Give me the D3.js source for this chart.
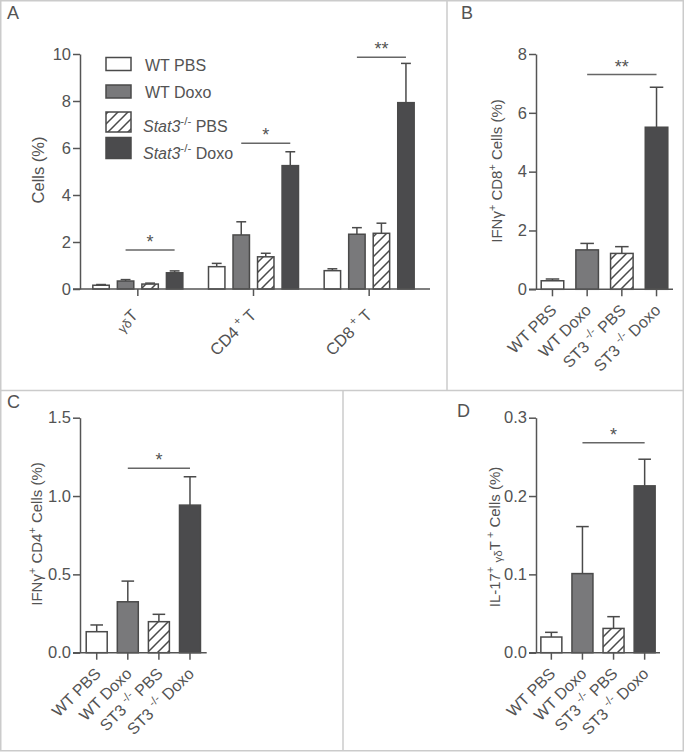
<!DOCTYPE html>
<html><head><meta charset="utf-8">
<script src="https://cdn.jsdelivr.net/npm/d3@7"></script>
<style>
body{margin:0;background:#fff}
svg{display:block}
text{font-family:"Liberation Sans",Arial,Helvetica,sans-serif;fill:#535353;white-space:pre}
</style>
</head><body>
<svg id="chart" width="684" height="753"></svg>
<script>
// ---------------- DATA ----------------
const seriesNames = ["WT PBS", "WT Doxo", "Stat3-/- PBS", "Stat3-/- Doxo"];
const shortNames  = ["WT PBS", "WT Doxo", "ST3-/- PBS", "ST3-/- Doxo"];

// Panel A
const groupsA   = ["γδT", "CD4+ T", "CD8+ T"];
const aWtPbs    = [0.16, 0.95, 0.78];
const aWtPbsSem = [0.03, 0.14, 0.08];
const aWtDoxo   = [0.34, 2.30, 2.33];
const aWtDoxoSem= [0.06, 0.56, 0.28];
const aKoPbs    = [0.21, 1.37, 2.37];
const aKoPbsSem = [0.04, 0.15, 0.43];
const aKoDoxo   = [0.69, 5.25, 7.93];
const aKoDoxoSem= [0.08, 0.59, 1.67];
const aTicks    = [0, 2, 4, 6, 8, 10];
const aSigLevel = [1.66, 6.2, 9.86];
const aSigText  = ["*", "*", "**"];

// Panel B
const bMeans = [0.29, 1.34, 1.22, 5.51];
const bSem   = [0.06, 0.22, 0.23, 1.36];
const bTicks = [0, 2, 4, 6, 8];
const bSig   = 7.3, bSigText = "**";

// Panel C
const cMeans = [0.134, 0.325, 0.198, 0.942];
const cSem   = [0.043, 0.132, 0.047, 0.181];
const cTicks = [0.0, 0.5, 1.0, 1.5];
const cSig   = 1.177, cSigText = "*";

// Panel D
const dMeans = [0.020, 0.101, 0.031, 0.213];
const dSem   = [0.006, 0.060, 0.015, 0.034];
const dTicks = [0.0, 0.1, 0.2, 0.3];
const dSig   = 0.268, dSigText = "*";

// ---------------- STYLE ----------------
const fills = ["#ffffff", "#79797b", "url(#hatch)", "#4b4b4d"];
const ink = "#535353";
const barStroke = "#4a4a4a";

const svg = d3.select("#chart");
const defs = svg.append("defs");
const pat = defs.append("pattern").attr("id", "hatch").attr("patternUnits", "userSpaceOnUse")
  .attr("width", 10).attr("height", 10);
pat.append("rect").attr("width", 10).attr("height", 10).attr("fill", "#fff");
pat.append("path").attr("d", "M-2,12 L12,-2 M-5,5 L5,-5 M5,15 L15,5")
  .attr("stroke", "#4a4a4a").attr("stroke-width", 1.5);

// panel frame
const frame = svg.append("g").attr("stroke", "#cbcbcb").attr("stroke-width", 1.5).attr("fill", "none");
frame.append("rect").attr("x", 0.75).attr("y", 0.75).attr("width", 682.5).attr("height", 750);
frame.append("line").attr("x1", 0).attr("x2", 684).attr("y1", 390.5).attr("y2", 390.5);
frame.append("line").attr("x1", 447).attr("x2", 447).attr("y1", 0).attr("y2", 390.5);
frame.append("line").attr("x1", 343).attr("x2", 343).attr("y1", 390.5).attr("y2", 751);

// rich text helper
function rich(sel, parts, size) {
  let shift = 0;
  parts.forEach(p => {
    let fs = size, target = 0;
    if (p.sup) { fs = size * 0.72; target = -size * 0.42; }
    if (p.small) { fs = size * 0.78; target = size * 0.1; }
    sel.append("tspan").attr("dy", (target - shift).toFixed(2)).attr("font-size", fs)
      .attr("font-style", p.it ? "italic" : null).text(p.t);
    shift = target;
  });
  return sel;
}
function koParts(name, italic, gap) {
  const i = name.indexOf("-/-");
  if (i < 0) return [{ t: name }];
  return [{ t: name.slice(0, i) + (gap ? " " : ""), it: italic }, { t: "-/-", sup: true }, { t: name.slice(i + 3) }];
}
function groupParts(name) {
  if (name.startsWith("γδ")) return [{ t: "γδ", small: true }, { t: name.slice(2) }];
  const i = name.indexOf("+");
  return [{ t: name.slice(0, i) }, { t: " +", sup: true }, { t: name.slice(i + 1) }];
}

function styleAxis(g) {
  g.attr("font-size", null).attr("font-family", null);
  g.selectAll("path,line").attr("stroke", "#555").attr("stroke-width", 1.5);
  g.selectAll("text").attr("fill", ink).attr("font-size", 16.5);
}

function drawYAxis(y, x0, ticks, fmt) {
  const g = svg.append("g").attr("transform", `translate(${x0},0)`)
    .call(d3.axisLeft(y).tickValues(ticks).tickFormat(fmt).tickSize(7).tickPadding(2).tickSizeOuter(0));
  styleAxis(g);
  return g;
}
function drawXAxis(x, y0, xStart, xEnd) {
  const g = svg.append("g").attr("transform", `translate(0,${y0})`)
    .call(d3.axisBottom(x).tickSize(7).tickFormat("").tickSizeOuter(0));
  styleAxis(g);
  g.select(".domain").attr("d", `M${xStart},0H${xEnd}`);
  return g;
}
function drawBar(x, w, y, mean, sem, i) {
  const cx = x + w / 2, cap = w * 0.6;
  const top = y(mean + sem);
  svg.append("line").attr("x1", cx).attr("x2", cx).attr("y1", y(mean)).attr("y2", top)
    .attr("stroke", barStroke).attr("stroke-width", 1.5);
  svg.append("line").attr("x1", cx - cap / 2).attr("x2", cx + cap / 2).attr("y1", top).attr("y2", top)
    .attr("stroke", barStroke).attr("stroke-width", 1.5);
  svg.append("rect").attr("x", x).attr("y", y(mean)).attr("width", w).attr("height", y(0) - y(mean))
    .attr("fill", fills[i]).attr("stroke", barStroke).attr("stroke-width", 1.5);
}
function drawSig(xa, xb, yv, txt) {
  svg.append("line").attr("x1", xa).attr("x2", xb).attr("y1", yv).attr("y2", yv)
    .attr("stroke", "#666").attr("stroke-width", 1.5);
  svg.append("text").attr("x", (xa + xb) / 2).attr("y", yv - 2).attr("text-anchor", "middle")
    .attr("font-size", 18).text(txt);
}
function yTitle(x, yc, parts, size) {
  const t = svg.append("text").attr("transform", `translate(${x},${yc}) rotate(-90)`)
    .attr("text-anchor", "middle").attr("font-size", size);
  rich(t, parts, size);
}
function letter(x, y, s) {
  svg.append("text").attr("x", x).attr("y", y).attr("font-size", 18).attr("fill", "#555").text(s);
}

// ---------------- PANEL A ----------------
(function () {
  const y = d3.scaleLinear().domain([0, 10]).range([289, 54]);
  const xg = d3.scaleBand().domain(groupsA).range([80, 427]).padding(0);
  const xs = d3.scaleBand().domain(d3.range(4)).range([xg.bandwidth() / 2 - 45, xg.bandwidth() / 2 + 45]).paddingInner(0.33);
  const means = [aWtPbs, aWtDoxo, aKoPbs, aKoDoxo];
  const sems = [aWtPbsSem, aWtDoxoSem, aKoPbsSem, aKoDoxoSem];
  groupsA.forEach((g, gi) => {
    for (let s = 0; s < 4; s++) drawBar(xg(g) + xs(s), xs.bandwidth(), y, means[s][gi], sems[s][gi], s);
    const xa = xg(g) + xs(1) + xs.bandwidth() / 2, xb = xg(g) + xs(3) + xs.bandwidth() / 2;
    drawSig(xa, xb, y(aSigLevel[gi]), aSigText[gi]);
  });
  drawYAxis(y, 80, aTicks, d3.format("d"));
  drawXAxis(xg, 289, 73, 430);
  groupsA.forEach((g, gi) => {
    const cx = xg(g) + xg.bandwidth() / 2;
    const t = svg.append("text").attr("transform", `translate(${cx + (gi === 0 ? 1 : 4)},${289 + 27}) rotate(-45)`)
      .attr("text-anchor", "end").attr("font-size", 16.5);
    rich(t, groupParts(g), 16.5);
  });
  yTitle(43.5, 170, [{ t: "Cells (%)" }], 16.5);
  // legend
  const legY = [57.5, 85, 112, 137.5], legH = [13, 13, 20, 21], legBase = [71, 97.5, 132, 158.5];
  seriesNames.forEach((n, i) => {
    svg.append("rect").attr("x", 106).attr("y", legY[i]).attr("width", 25).attr("height", legH[i])
      .attr("fill", fills[i]).attr("stroke", barStroke).attr("stroke-width", 1.5);
    const t = svg.append("text").attr("x", i < 2 ? 145 : 143).attr("y", legBase[i]).attr("font-size", 16);
    rich(t, koParts(n, true, false), 16);
  });
  letter(7, 19, "A");
})();

// ---------------- SINGLE PANELS ----------------
function simplePanel(o) {
  const y = d3.scaleLinear().domain([0, o.ticks[o.ticks.length - 1]]).range([o.y0, o.y1]);
  const x = d3.scaleBand().domain(shortNames).range([o.x0, o.x1]).paddingInner(o.pi).paddingOuter(o.po);
  shortNames.forEach((n, i) => drawBar(x(n), x.bandwidth(), y, o.means[i], o.sem[i], i));
  drawSig(x(shortNames[1]) + x.bandwidth() / 2, x(shortNames[3]) + x.bandwidth() / 2, y(o.sig), o.sigText);
  drawYAxis(y, o.x0, o.ticks, o.fmt);
  drawXAxis(x, o.y0, o.x0 - 7, o.x1);
  shortNames.forEach(n => {
    const cx = x(n) + x.bandwidth() / 2;
    const t = svg.append("text").attr("transform", `translate(${cx + 5},${o.y0 + 22}) rotate(-45)`)
      .attr("text-anchor", "end").attr("font-size", 16);
    rich(t, koParts(n, false, true), 16);
  });
  yTitle(o.tx, o.ty, o.title, 15);
}

simplePanel({ x0: 536, x1: 673, y0: 289.3, y1: 54, pi: 0.35, po: 0.15, means: bMeans, sem: bSem,
  ticks: bTicks, fmt: d3.format("d"), sig: bSig, sigText: bSigText, tx: 502, ty: 171,
  title: [{ t: "IFNγ" }, { t: "+", sup: true }, { t: " CD8" }, { t: "+", sup: true }, { t: " Cells (%)" }] });
letter(461, 19, "B");

simplePanel({ x0: 80, x1: 206.7, y0: 652.7, y1: 417.7, pi: 0.325, po: 0.2, means: cMeans, sem: cSem,
  ticks: cTicks, fmt: d3.format(".1f"), sig: cSig, sigText: cSigText, tx: 42, ty: 534,
  title: [{ t: "IFNγ" }, { t: "+", sup: true }, { t: " CD4" }, { t: "+", sup: true }, { t: " Cells (%)" }] });
letter(7, 408, "C");

simplePanel({ x0: 536, x1: 660, y0: 652.7, y1: 417.7, pi: 0.325, po: 0.156, means: dMeans, sem: dSem,
  ticks: dTicks, fmt: d3.format(".1f"), sig: dSig, sigText: dSigText, tx: 500, ty: 537,
  title: [{ t: "IL-17" }, { t: "+", sup: true }, { t: " " }, { t: "γδ", small: true }, { t: "T" }, { t: " +", sup: true }, { t: " Cells (%)" }] });
letter(457, 417, "D");
</script>
</body></html>
